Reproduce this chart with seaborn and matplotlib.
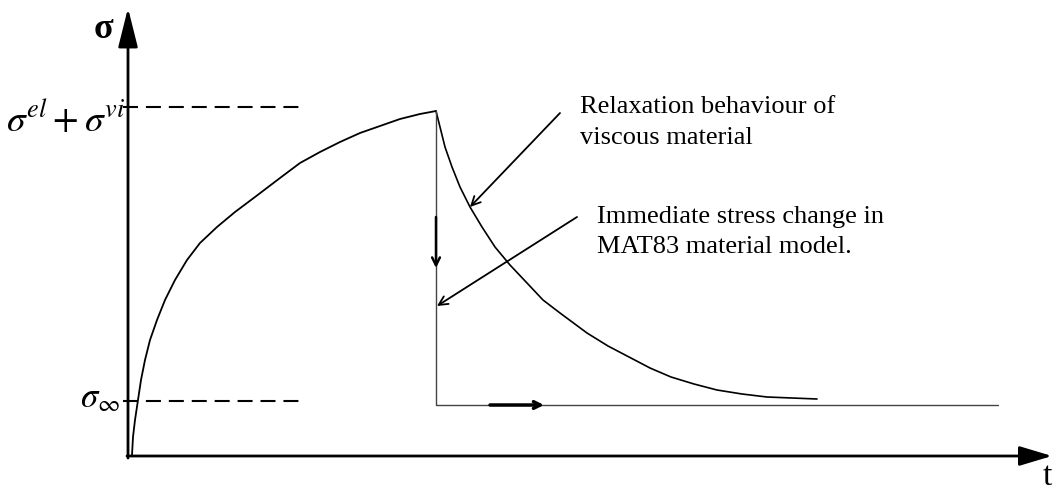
import pandas as pd
import matplotlib.pyplot as plt
import seaborn as sns

# time / stress (arbitrary units, origin at the axes corner)
load_t = [0.04, 0.05, 0.07, 0.10, 0.13, 0.17, 0.22, 0.29, 0.37, 0.47, 0.59, 0.72,
          0.89, 1.07, 1.27, 1.52, 1.72, 1.92, 2.12, 2.32, 2.52, 2.72, 2.92, 3.08]
load_s = [0.01, 0.19, 0.36, 0.56, 0.76, 0.96, 1.16, 1.36, 1.56, 1.76, 1.96, 2.13,
          2.29, 2.44, 2.59, 2.78, 2.93, 3.04, 3.14, 3.23, 3.30, 3.37, 3.42, 3.45]

relax_t = [3.08, 3.12, 3.17, 3.24, 3.32, 3.42, 3.54, 3.67, 3.82, 3.99, 4.15, 4.32,
           4.59, 4.80, 5.01, 5.22, 5.43, 5.66, 5.89, 6.14, 6.39, 6.64, 6.89]
relax_s = [3.45, 3.29, 3.09, 2.89, 2.69, 2.49, 2.29, 2.09, 1.91, 1.73, 1.56, 1.43,
           1.23, 1.10, 0.99, 0.88, 0.79, 0.72, 0.66, 0.62, 0.59, 0.58, 0.57]

# MAT83: immediate drop, then constant
mat83_t = [3.08, 3.08, 8.70]
mat83_s = [3.45, 0.51, 0.51]

level_peak = 3.49
level_inf = 0.55
dash_t = [-0.05, 1.78]

df_load = pd.DataFrame({'t': load_t, 'sigma': load_s})
df_relax = pd.DataFrame({'t': relax_t, 'sigma': relax_s})
df_mat = pd.DataFrame({'t': mat83_t, 'sigma': mat83_s})

sns.set_style("white")
plt.rcParams['font.family'] = ['Liberation Serif', 'DejaVu Serif']
plt.rcParams['mathtext.fontset'] = 'stix'
plt.rcParams['text.color'] = 'black'

fig = plt.figure(figsize=(10.54, 4.93), dpi=100)
ax = fig.add_axes([0, 0, 1, 1])

sns.lineplot(x='t', y='sigma', data=df_load, sort=False, estimator=None, color='black', lw=1.3, ax=ax)
sns.lineplot(x='t', y='sigma', data=df_relax, sort=False, estimator=None, color='black', lw=1.2, ax=ax)
sns.lineplot(x='t', y='sigma', data=df_mat, sort=False, estimator=None, color='#444444', lw=1.0, ax=ax)

for lev in [level_peak, level_inf]:
    ax.plot(dash_t, [lev, lev], color='black', lw=1.5, linestyle=(0, (7.2, 3.8)))

# axes with arrow heads
ax.annotate('', xy=(0, 4.48), xytext=(0, -0.02),
            arrowprops=dict(arrowstyle='-|>,head_length=1.2,head_width=0.3', mutation_scale=20,
                            lw=2, color='black', shrinkA=0, shrinkB=0))
ax.annotate('', xy=(9.24, 0), xytext=(-0.01, 0),
            arrowprops=dict(arrowstyle='-|>,head_length=1.0,head_width=0.3', mutation_scale=20,
                            lw=2, color='black', shrinkA=0, shrinkB=0))

# small direction arrows
ax.annotate('', xy=(3.08, 1.88), xytext=(3.08, 2.39),
            arrowprops=dict(arrowstyle='->', lw=1.8, color='black', shrinkA=0, shrinkB=0,
                            mutation_scale=14))
ax.annotate('', xy=(4.16, 0.51), xytext=(3.62, 0.51),
            arrowprops=dict(arrowstyle='->', lw=2.5, color='black', shrinkA=0, shrinkB=0,
                            mutation_scale=12))

# callout arrows
ax.annotate('', xy=(3.42, 2.49), xytext=(4.32, 3.43),
            arrowprops=dict(arrowstyle='->', lw=1.3, color='black', shrinkA=0, shrinkB=0,
                            mutation_scale=16))
ax.annotate('', xy=(3.09, 1.50), xytext=(4.49, 2.39),
            arrowprops=dict(arrowstyle='->', lw=1.3, color='black', shrinkA=0, shrinkB=0,
                            mutation_scale=16))

ax.text(4.52, 3.60, 'Relaxation behaviour of\nviscous material', ha='left', va='top',
        fontsize=19, linespacing=1.55, color='black')
ax.text(4.69, 2.50, 'Immediate stress change in\nMAT83 material model.', ha='left', va='top',
        fontsize=19, linespacing=1.5, color='black')

# axis labels
ax.text(-0.25, 4.18, 'σ', ha='center', va='baseline', fontsize=26, fontweight='bold', color='black')
ax.text(9.19, -0.36, 't', ha='center', va='bottom', fontsize=24, color='black')
ax.text(-0.03, 3.24, r'$\sigma^{el}+\sigma^{vi}$', ha='right', va='baseline', fontsize=27, color='black')
ax.text(-0.08, 0.49, r'$\sigma_{\infty}$', ha='right', va='baseline', fontsize=25, color='black')

ax.set_xlim(-1.28, 9.26)
ax.set_ylim(-0.37, 4.56)
ax.axis('off')

plt.savefig('out.png', dpi=100, facecolor='white')
